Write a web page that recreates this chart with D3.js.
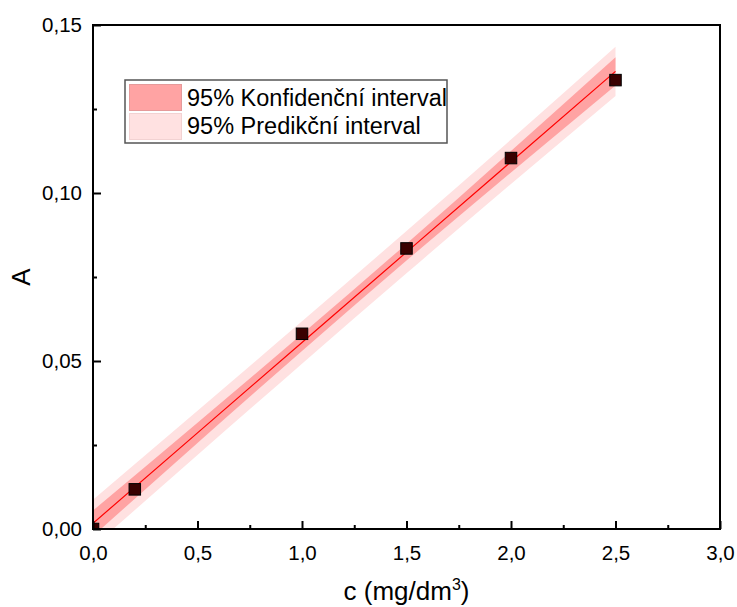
<!DOCTYPE html>
<html>
<head>
<meta charset="utf-8">
<script src="https://cdn.jsdelivr.net/npm/d3@7"></script>
<style>
  html, body { margin: 0; padding: 0; background: #fff; }
  svg { display: block; font-family: "Liberation Sans", Arial, sans-serif; }
</style>
</head>
<body>
<svg id="chart" width="737" height="607"></svg>
<script>
// ---- data ----
const pointX = [0, 0.2, 1.0, 1.5, 2.0, 2.5];
const pointY = [0.0, 0.0118, 0.0581, 0.0835, 0.1104, 0.1336];

const bandX     = [0, 0.5, 1.0, 1.5, 2.0, 2.5];
const fitY      = [0.0017, 0.0286, 0.0555, 0.0824, 0.1093, 0.1362];
const confUpper = [0.0055, 0.0316, 0.0580, 0.0849, 0.1125, 0.1404];
const confLower = [-0.0021, 0.0256, 0.0530, 0.0799, 0.1061, 0.1320];
const predUpper = [0.0087, 0.0352, 0.0618, 0.0887, 0.1159, 0.1435];
const predLower = [-0.0053, 0.0220, 0.0492, 0.0761, 0.1027, 0.1289];

const xTicks = [0, 0.5, 1.0, 1.5, 2.0, 2.5, 3.0];
const xMinorTicks = [0.25, 0.75, 1.25, 1.75, 2.25, 2.75];
const yTicks = [0, 0.05, 0.10, 0.15];
const yMinorTicks = [0.025, 0.075, 0.125];

const legendLabels = ["95% Konfidenční interval", "95% Predikční interval"];
const xTitle = "c (mg/dm";
const xTitleSup = "3";
const yTitle = "A";

// ---- layout ----
const svg = d3.select("#chart");
const L = 93, R = 720, T = 25, B = 529;
const x = d3.scaleLinear().domain([0, 3.0]).range([L, R]);
const y = d3.scaleLinear().domain([0, 0.15]).range([B, T]);
const fmt = d => d3.format(".1f")(d).replace(".", ",");
const fmtY = d => d3.format(".2f")(d).replace(".", ",");

const colConf = "#ffa3a3", colPred = "#ffe1e1";

svg.append("defs").append("clipPath").attr("id", "plotclip")
  .append("rect").attr("x", L).attr("y", T).attr("width", R - L).attr("height", B - T);

const plot = svg.append("g").attr("clip-path", "url(#plotclip)");

const idx = d3.range(bandX.length);
const areaPred = d3.area().x(i => x(bandX[i])).y0(i => y(predLower[i])).y1(i => y(predUpper[i])).curve(d3.curveMonotoneX);
const areaConf = d3.area().x(i => x(bandX[i])).y0(i => y(confLower[i])).y1(i => y(confUpper[i])).curve(d3.curveMonotoneX);
plot.append("path").attr("d", areaPred(idx)).attr("fill", colPred);
plot.append("path").attr("d", areaConf(idx)).attr("fill", colConf);

const fitLine = d3.line().x(i => x(bandX[i])).y(i => y(fitY[i]));
plot.append("path").attr("d", fitLine(idx)).attr("fill", "none").attr("stroke", "#ff0000").attr("stroke-width", 1.2);

const ms = 11.5;
plot.selectAll("rect.pt").data(d3.range(pointX.length)).enter().append("rect")
  .attr("class", "pt")
  .attr("x", i => x(pointX[i]) - ms / 2)
  .attr("y", i => y(pointY[i]) - ms / 2)
  .attr("width", ms).attr("height", ms)
  .attr("fill", "#3a0000").attr("stroke", "#000").attr("stroke-width", 1);

// ---- axes ----
const tickFont = 20.5;
const xAxis = d3.axisBottom(x).tickValues(xTicks).tickFormat(fmt).tickSizeInner(-8).tickSizeOuter(0).tickPadding(16);
const gx = svg.append("g").attr("transform", `translate(0,${B})`).call(xAxis);
gx.select(".domain").remove();
gx.selectAll(".tick line").attr("stroke", "#000").attr("stroke-width", 2);
gx.selectAll(".tick text").attr("font-size", tickFont).attr("fill", "#000")
  .attr("font-family", "'Liberation Sans', Arial, sans-serif");
const xMinor = d3.axisBottom(x).tickValues(xMinorTicks).tickFormat("").tickSizeInner(-4).tickSizeOuter(0);
const gxm = svg.append("g").attr("transform", `translate(0,${B})`).call(xMinor);
gxm.select(".domain").remove();
gxm.selectAll(".tick line").attr("stroke", "#000").attr("stroke-width", 2);

const yAxis = d3.axisLeft(y).tickValues(yTicks).tickFormat(fmtY).tickSizeInner(-8).tickSizeOuter(0).tickPadding(11);
const gy = svg.append("g").attr("transform", `translate(${L},0)`).call(yAxis);
gy.select(".domain").remove();
gy.selectAll(".tick line").attr("stroke", "#000").attr("stroke-width", 2);
gy.selectAll(".tick text").attr("font-size", tickFont).attr("fill", "#000")
  .attr("font-family", "'Liberation Sans', Arial, sans-serif");
const yMinor = d3.axisLeft(y).tickValues(yMinorTicks).tickFormat("").tickSizeInner(-4).tickSizeOuter(0);
const gym = svg.append("g").attr("transform", `translate(${L},0)`).call(yMinor);
gym.select(".domain").remove();
gym.selectAll(".tick line").attr("stroke", "#000").attr("stroke-width", 2);

// frame
svg.append("rect").attr("x", L).attr("y", T).attr("width", R - L).attr("height", B - T)
  .attr("fill", "none").attr("stroke", "#000").attr("stroke-width", 2);

// titles
const xt = svg.append("text").attr("x", (L + R) / 2).attr("y", 600)
  .attr("text-anchor", "middle").attr("font-size", 26).attr("fill", "#000");
xt.append("tspan").text(xTitle);
xt.append("tspan").attr("dy", -10).attr("font-size", 16).text(xTitleSup);
xt.append("tspan").attr("dy", 10).text(")");

svg.append("text").attr("transform", `translate(30,${(T + B) / 2}) rotate(-90)`)
  .attr("text-anchor", "middle").attr("font-size", 26).attr("fill", "#000").text(yTitle);

// legend
const lg = svg.append("g");
lg.append("rect").attr("x", 125).attr("y", 80).attr("width", 322).attr("height", 63)
  .attr("fill", "#fff").attr("stroke", "#555").attr("stroke-width", 1.5);
const swFill = [colConf, colPred];
const swStroke = ["#e59a9a", "#f2d2d2"];
legendLabels.forEach((lab, i) => {
  lg.append("rect").attr("x", 129.5).attr("y", 84.5 + i * 29).attr("width", 52).attr("height", 26)
    .attr("fill", swFill[i]).attr("stroke", swStroke[i]).attr("stroke-width", 1);
  lg.append("text").attr("x", 187).attr("y", 106 + i * 28).attr("font-size", 23.5).attr("fill", "#000").text(lab);
});
</script>
</body>
</html>
